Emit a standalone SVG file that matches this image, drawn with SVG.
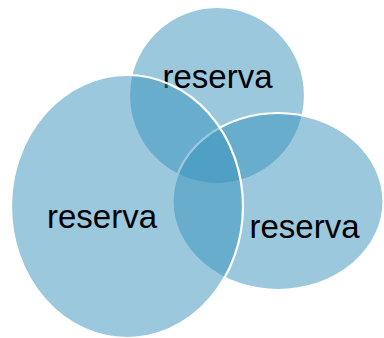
<svg xmlns="http://www.w3.org/2000/svg" width="384" height="338" viewBox="0 0 384 338">
<style>
.shape{fill:rgb(55,145,187);fill-opacity:0.5;stroke:#ffffff;stroke-width:2.2}
.lbl{font-family:"Liberation Sans",Arial,sans-serif;font-size:33px;fill:#000000;text-anchor:middle}
</style>
<rect width="384" height="338" fill="#ffffff"/>
<g id="node-top">
<ellipse class="shape" cx="217" cy="95.5" rx="88" ry="88.5"/>
<text class="lbl" x="217.5" y="88">reserva</text>
</g>
<g id="node-right">
<ellipse class="shape" cx="278" cy="201.5" rx="105.5" ry="88.5"/>
<text class="lbl" x="304.5" y="238">reserva</text>
</g>
<g id="node-left">
<ellipse class="shape" cx="127" cy="206.5" rx="116" ry="131.5"/>
<text class="lbl" x="102" y="228">reserva</text>
</g>
<g id="connectors"></g>
</svg>
